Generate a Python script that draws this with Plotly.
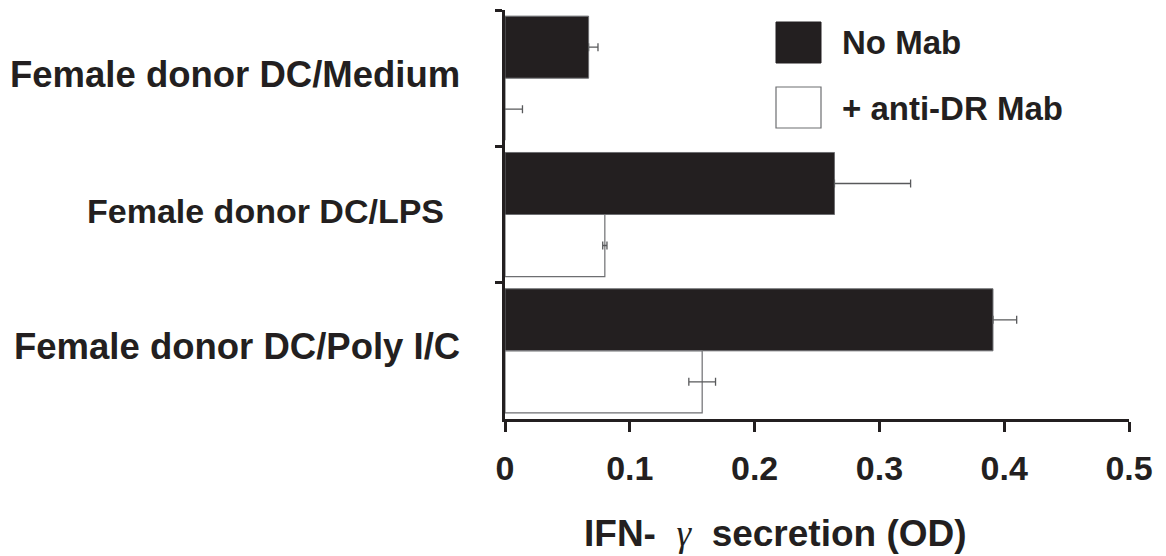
import plotly.graph_objects as go

categories = ["Female donor DC/Medium", "Female donor DC/LPS", "Female donor DC/Poly I/C"]
series_names = ["No Mab", "+ anti-DR Mab"]
no_mab = [0.067, 0.264, 0.391]
no_mab_err = [0.0075, 0.061, 0.019]
anti_dr = [0.0, 0.080, 0.158]
anti_dr_err = [0.014, 0.0017, 0.0107]
x_ticks = [0, 0.1, 0.2, 0.3, 0.4, 0.5]
x_tick_labels = ["0", "0.1", "0.2", "0.3", "0.4", "0.5"]

W, H = 1166, 556
L, R, T, B = 505, 37, 10, 137
PW, PH = W - L - R, H - T - B
INK = "#231f20"
FONT = "Liberation Sans"


def px(x):
    return (x - L) / PW


def py(y):
    return (H - B - y) / PH


fig = go.Figure()
fig.add_trace(go.Bar(
    y=categories, x=no_mab, orientation="h", name=series_names[0],
    marker=dict(color=INK, line=dict(color="#6d6e71", width=1)),
    error_x=dict(type="data", array=no_mab_err, arrayminus=[0, 0, 0], symmetric=False,
                 color="#58595b", thickness=1.3, width=4),
    showlegend=False,
))
fig.add_trace(go.Bar(
    y=categories, x=anti_dr, orientation="h", name=series_names[1],
    marker=dict(color="white", line=dict(color="#6d6e71", width=1.2)),
    error_x=dict(type="data", array=anti_dr_err, color="#58595b", thickness=1.3, width=4),
    showlegend=False,
))

fig.update_layout(
    width=W, height=H,
    margin=dict(l=L, r=R, t=T, b=B),
    paper_bgcolor="white", plot_bgcolor="white",
    barmode="group", bargap=0.09, bargroupgap=0,
    font=dict(family=FONT, color=INK),
    xaxis=dict(
        range=[0, 0.5], tickvals=x_ticks, ticktext=x_tick_labels,
        showgrid=False, zeroline=False, showline=True, linecolor=INK, linewidth=3,
        ticks="outside", ticklen=10, tickwidth=3, tickcolor=INK,
        tickfont=dict(family=FONT, size=34, color=INK, weight="bold"),
        ticklabelstandoff=7,
    ),
    yaxis=dict(
        type="category", categoryorder="array", categoryarray=categories,
        range=[2.5, -0.5], showgrid=False, zeroline=False,
        showline=True, linecolor=INK, linewidth=3,
        ticks="outside", tickson="boundaries", ticklen=7, tickwidth=3, tickcolor=INK,
        showticklabels=False,
    ),
)

# category labels
label_right = [462, 446, 462]
label_size = [36.5, 34, 36.5]
for cat, xr, fs in zip(categories, label_right, label_size):
    fig.add_annotation(x=px(xr), xref="paper", y=cat, yref="y", text=cat,
                       showarrow=False, xanchor="right", yanchor="middle", yshift=4,
                       font=dict(family=FONT, size=fs, color=INK, weight="bold"))

# axis title
fig.add_annotation(
    x=px(775), y=py(533), xref="paper", yref="paper", showarrow=False,
    xanchor="center", yanchor="middle",
    text='IFN-  <span style="font-family:Liberation Serif;font-weight:normal;font-style:italic">γ</span>  secretion (OD)',
    font=dict(family=FONT, size=37, color=INK, weight="bold"),
)

# legend (drawn)
fig.add_shape(type="rect", xref="paper", yref="paper",
              x0=px(776), x1=px(821), y0=py(63), y1=py(22),
              fillcolor=INK, line=dict(color=INK, width=1))
fig.add_shape(type="rect", xref="paper", yref="paper",
              x0=px(776), x1=px(821), y0=py(128), y1=py(87),
              fillcolor="white", line=dict(color="#6d6e71", width=1.2))
for name, yc in zip(series_names, [43, 108]):
    fig.add_annotation(x=px(840), y=py(yc), xref="paper", yref="paper", text=name,
                       showarrow=False, xanchor="left", yanchor="middle",
                       font=dict(family=FONT, size=33, color=INK, weight="bold"))

fig.write_html(
    "out.html",
    config={"displayModeBar": False},
    post_script="document.body.style.margin='0';document.body.style.overflow='hidden';",
)
